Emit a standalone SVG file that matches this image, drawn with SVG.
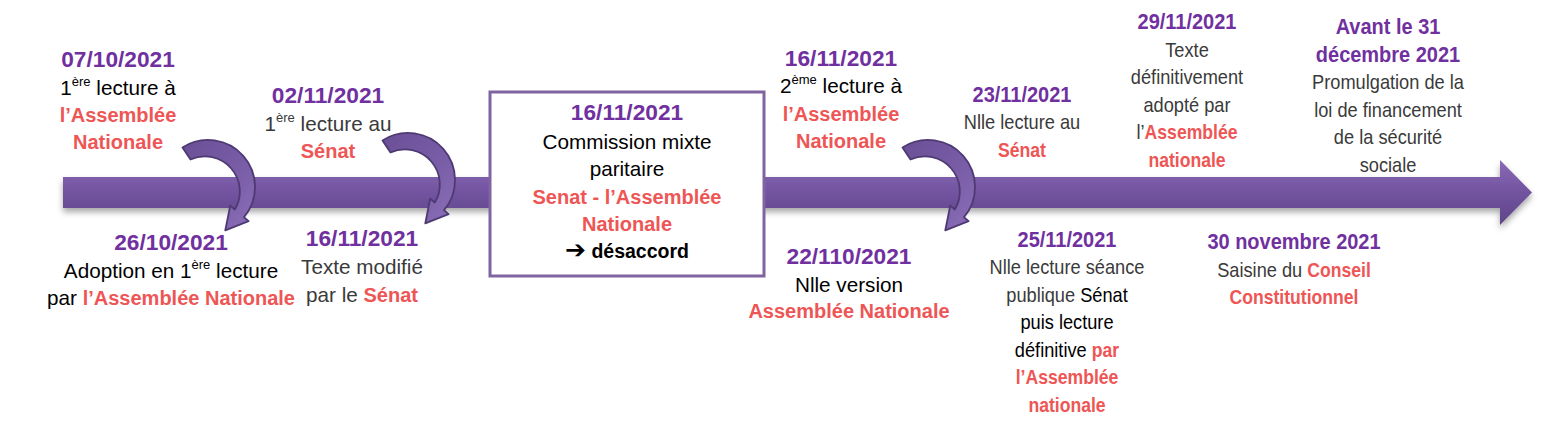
<svg xmlns="http://www.w3.org/2000/svg" width="1557" height="432" viewBox="0 0 1557 432">
<style>
text{font-family:"Liberation Sans",Arial,sans-serif;text-anchor:middle}
.d{font-weight:bold;font-size:22.7px;fill:#7030a0}
.t{font-size:20.7px;fill:#3a3a3a}
.k{font-size:20.7px;fill:#000}
.r{font-weight:bold;font-size:20px;fill:#ee5656}
.b{font-weight:bold;font-size:19.5px;fill:#000}
.sup{font-size:13px}
</style>
<defs>
<linearGradient id="shaft" x1="0" y1="0" x2="0" y2="1">
<stop offset="0" stop-color="#8a6ab6"/>
<stop offset="0.5" stop-color="#7253a0"/>
<stop offset="1" stop-color="#5e4587"/>
</linearGradient>
<linearGradient id="curv" x1="0" y1="0" x2="1" y2="1">
<stop offset="0" stop-color="#6a4f96"/>
<stop offset="0.6" stop-color="#7a5ea8"/>
<stop offset="1" stop-color="#8d70b9"/>
</linearGradient>
<filter id="sh" x="-5%" y="-30%" width="110%" height="170%">
<feDropShadow dx="0" dy="4" stdDeviation="3" flood-color="#000" flood-opacity="0.35"/>
</filter>
<path id="carrow" d="M -25.5,-39.5 A 47 47 0 0 1 36.0,30.2 L 40.6,34.1 L 17.3,43.3 L 22.2,18.6 L 26.8,22.5 A 35 35 0 0 0 -17.5,-27.5 Z" fill="url(#curv)" stroke="#4e3a73" stroke-width="1.8" stroke-linejoin="round"/>
</defs>
<rect width="1557" height="432" fill="#fff"/>

<g id="timeline">
<path d="M63,177 L1500,177 L1500,160 L1532,192.5 L1500,225 L1500,208 L63,208 Z" fill="url(#shaft)" filter="url(#sh)"/>
</g>

<g id="connectors">
<use href="#carrow" transform="translate(208,187)"/>
<use href="#carrow" transform="translate(408,180)"/>
<use href="#carrow" transform="translate(928,187)"/>
</g>

<g id="n1">
<text x="118" y="67" class="d">07/10/2021</text>
<text x="118" y="95" class="k">1<tspan class="sup" dy="-9">ère</tspan><tspan dy="9"> lecture à</tspan></text>
<text x="118" y="122" class="r">l’Assemblée</text>
<text x="118" y="149" class="r">Nationale</text>
</g>

<g id="n2">
<text x="328" y="103" class="d">02/11/2021</text>
<text x="328" y="131" class="t">1<tspan class="sup" dy="-9">ère</tspan><tspan dy="9"> lecture au</tspan></text>
<text x="328" y="158" class="r">Sénat</text>
</g>

<g id="n3">
<text x="171" y="250" class="d">26/10/2021</text>
<text x="171" y="278" class="k">Adoption en 1<tspan class="sup" dy="-9">ère</tspan><tspan dy="9"> lecture</tspan></text>
<text x="171" y="305" class="k">par <tspan class="r">l’Assemblée Nationale</tspan></text>
</g>

<g id="n4">
<text x="362" y="246" class="d">16/11/2021</text>
<text x="362" y="274" class="t">Texte modifié</text>
<text x="362" y="302" class="t">par le <tspan class="r">Sénat</tspan></text>
</g>

<g id="n5">
<rect x="490" y="92" width="274" height="184" fill="#fff" stroke="#8064a2" stroke-width="3"/>
<text x="627" y="120" class="d">16/11/2021</text>
<text x="627" y="149" class="k">Commission mixte</text>
<text x="627" y="176" class="k">paritaire</text>
<text x="627" y="204" class="r">Senat - l’Assemblée</text>
<text x="627" y="231" class="r">Nationale</text>
<text x="627" y="258" class="b"><tspan font-family="DejaVu Sans,sans-serif" font-size="25px">➔</tspan> désaccord</text>
</g>

<g id="n6">
<text x="841" y="66" class="d">16/11/2021</text>
<text x="841" y="93" class="k">2<tspan class="sup" dy="-9">ème</tspan><tspan dy="9"> lecture à</tspan></text>
<text x="841" y="121" class="r">l’Assemblée</text>
<text x="841" y="148" class="r">Nationale</text>
</g>

<g id="n7">
<text x="849" y="264" class="d">22/110/2021</text>
<text x="849" y="292" class="k">Nlle version</text>
<text x="849" y="318" class="r">Assemblée Nationale</text>
</g>

<g id="n8" transform="translate(1022,0) scale(0.88,1)">
<text x="0" y="102" class="d">23/11/2021</text>
<text x="0" y="129" class="t">Nlle lecture au</text>
<text x="0" y="157" class="r">Sénat</text>
</g>

<g id="n9" transform="translate(1067,0) scale(0.88,1)">
<text x="0" y="247" class="d">25/11/2021</text>
<text x="0" y="274" class="t">Nlle lecture séance</text>
<text x="0" y="302" class="t">publique <tspan fill="#000">Sénat</tspan></text>
<text x="0" y="329" class="k">puis lecture</text>
<text x="0" y="357" class="k">définitive <tspan class="r">par</tspan></text>
<text x="0" y="384" class="r">l’Assemblée</text>
<text x="0" y="412" class="r">nationale</text>
</g>

<g id="n10" transform="translate(1187,0) scale(0.88,1)">
<text x="0" y="29" class="d">29/11/2021</text>
<text x="0" y="57" class="t">Texte</text>
<text x="0" y="84" class="t">définitivement</text>
<text x="0" y="112" class="t">adopté par</text>
<text x="0" y="139" class="t">l’<tspan class="r">Assemblée</tspan></text>
<text x="0" y="167" class="r">nationale</text>
</g>

<g id="n11" transform="translate(1294,0) scale(0.88,1)">
<text x="0" y="249" class="d">30 novembre 2021</text>
<text x="0" y="277" class="t">Saisine du <tspan class="r">Conseil</tspan></text>
<text x="0" y="304" class="r">Constitutionnel</text>
</g>

<g id="n12" transform="translate(1388,0) scale(0.88,1)">
<text x="0" y="34" class="d">Avant le 31</text>
<text x="0" y="62" class="d">décembre 2021</text>
<text x="0" y="89" class="t">Promulgation de la</text>
<text x="0" y="117" class="t">loi de financement</text>
<text x="0" y="144" class="t">de la sécurité</text>
<text x="0" y="172" class="t">sociale</text>
</g>
</svg>
